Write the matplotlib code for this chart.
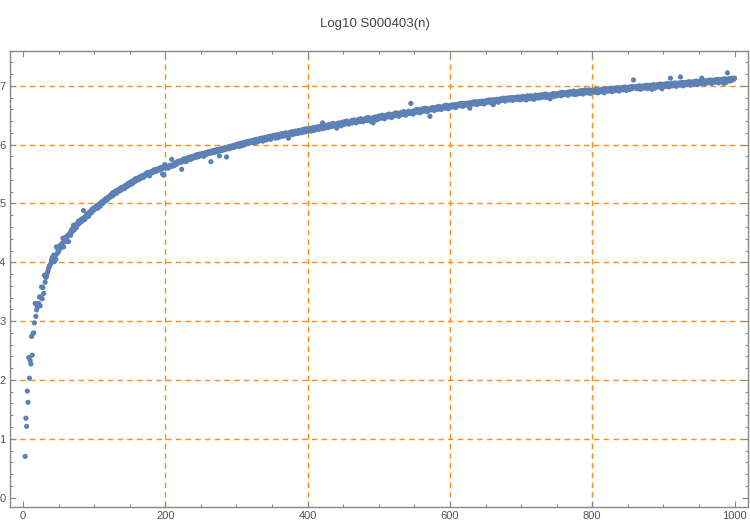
import numpy as np
import matplotlib
matplotlib.use("Agg")
import matplotlib.pyplot as plt
from matplotlib.ticker import MultipleLocator

#-----------------------------data--------------------------------------------------

title = "Log10 S000403(n)"

n_start = 3
log10_s = [
    0.70, 1.35, 1.21, 1.81, 1.62, 2.38, 2.03, 2.33,
    2.27, 2.74, 2.42, 2.79, 2.80, 2.97, 3.30, 3.08, 3.19, 3.24,
    3.25, 3.30, 3.41, 3.26, 3.41, 3.58, 3.38, 3.57, 3.47, 3.78,
    3.66, 3.74, 3.76, 3.81, 3.85, 3.90, 3.93, 3.95, 3.98, 4.04,
    4.08, 4.07, 4.12, 4.01, 4.10, 4.05, 4.26, 4.15, 4.22, 4.18,
    4.26, 4.29, 4.24, 4.29, 4.32, 4.41, 4.26, 4.38, 4.35, 4.43,
    4.40, 4.43, 4.46, 4.35, 4.47, 4.50, 4.46, 4.55, 4.52, 4.58,
    4.63, 4.55, 4.60, 4.62, 4.59, 4.66, 4.64, 4.70, 4.66, 4.68,
    4.72, 4.69, 4.74, 4.71, 4.88, 4.76, 4.73, 4.79, 4.77, 4.82,
    4.80, 4.78, 4.85, 4.83, 4.87, 4.84, 4.90, 4.88, 4.92, 4.89,
    4.93, 4.91, 4.96, 4.94, 4.92, 4.98, 4.97, 4.95, 5.01, 4.99,
    5.03, 5.00, 5.02, 5.06, 5.04, 5.05, 5.09, 5.06, 5.08, 5.11,
    5.10, 5.13, 5.11, 5.14, 5.17, 5.13, 5.19, 5.16, 5.18, 5.21,
    5.17, 5.22, 5.20, 5.23, 5.21, 5.25, 5.22, 5.27, 5.24, 5.26,
    5.28, 5.25, 5.30, 5.27, 5.31, 5.29, 5.33, 5.30, 5.35, 5.32,
    5.34, 5.37, 5.33, 5.38, 5.36, 5.40, 5.37, 5.42, 5.39, 5.41,
    5.43, 5.40, 5.44, 5.42, 5.46, 5.43, 5.47, 5.45, 5.44, 5.48,
    5.47, 5.50, 5.48, 5.52, 5.49, 5.53, 5.50, 5.47, 5.52, 5.54,
    5.52, 5.55, 5.53, 5.57, 5.54, 5.56, 5.58, 5.55, 5.57, 5.59,
    5.57, 5.60, 5.58, 5.61, 5.59, 5.50, 5.62, 5.48, 5.66, 5.60,
    5.62, 5.61, 5.63, 5.60, 5.64, 5.62, 5.65, 5.63, 5.75, 5.64,
    5.66, 5.64, 5.67, 5.69, 5.66, 5.68, 5.71, 5.69, 5.72, 5.70,
    5.72, 5.70, 5.58, 5.73, 5.75, 5.72, 5.76, 5.74, 5.71, 5.75,
    5.77, 5.74, 5.78, 5.76, 5.79, 5.75, 5.78, 5.80, 5.77, 5.79,
    5.81, 5.78, 5.80, 5.83, 5.79, 5.82, 5.80, 5.84, 5.81, 5.83,
    5.82, 5.85, 5.83, 5.80, 5.84, 5.86, 5.83, 5.87, 5.84, 5.86,
    5.88, 5.85, 5.87, 5.71, 5.89, 5.86, 5.88, 5.90, 5.87, 5.89,
    5.91, 5.88, 5.90, 5.92, 5.89, 5.81, 5.91, 5.93, 5.90, 5.92,
    5.94, 5.91, 5.93, 5.95, 5.92, 5.79, 5.94, 5.96, 5.93, 5.95,
    5.97, 5.94, 5.96, 5.98, 5.95, 5.97, 5.99, 5.96, 5.98, 6.00,
    5.98, 6.01, 5.99, 5.97, 6.02, 6.00, 5.98, 6.03, 6.01, 5.99,
    6.02, 6.04, 6.01, 6.03, 6.05, 6.02, 6.04, 6.06, 6.03, 6.05,
    6.04, 6.07, 6.05, 6.03, 6.08, 6.06, 6.04, 6.09, 6.07, 6.05,
    6.08, 6.10, 6.07, 6.09, 6.11, 6.08, 6.06, 6.10, 6.12, 6.09,
    6.11, 6.08, 6.13, 6.10, 6.12, 6.14, 6.11, 6.09, 6.13, 6.15,
    6.12, 6.14, 6.16, 6.13, 6.11, 6.15, 6.17, 6.14, 6.12, 6.16,
    6.15, 6.18, 6.16, 6.14, 6.19, 6.17, 6.15, 6.18, 6.20, 6.17,
    6.19, 6.16, 6.11, 6.20, 6.18, 6.21, 6.19, 6.17, 6.22, 6.20,
    6.18, 6.21, 6.23, 6.20, 6.22, 6.19, 6.24, 6.21, 6.23, 6.20,
    6.22, 6.25, 6.23, 6.21, 6.26, 6.24, 6.22, 6.27, 6.25, 6.23,
    6.26, 6.24, 6.27, 6.25, 6.23, 6.28, 6.26, 6.24, 6.29, 6.27,
    6.25, 6.28, 6.30, 6.27, 6.29, 6.26, 6.31, 6.28, 6.30, 6.27,
    6.37, 6.29, 6.31, 6.28, 6.32, 6.30, 6.33, 6.29, 6.31, 6.34,
    6.30, 6.32, 6.35, 6.31, 6.33, 6.36, 6.32, 6.34, 6.31, 6.35,
    6.28, 6.34, 6.36, 6.33, 6.37, 6.35, 6.32, 6.36, 6.38, 6.34,
    6.36, 6.39, 6.35, 6.37, 6.40, 6.36, 6.38, 6.35, 6.39, 6.37,
    6.38, 6.41, 6.37, 6.39, 6.42, 6.38, 6.40, 6.37, 6.41, 6.39,
    6.40, 6.43, 6.39, 6.41, 6.44, 6.40, 6.42, 6.39, 6.43, 6.41,
    6.42, 6.45, 6.41, 6.43, 6.46, 6.42, 6.44, 6.40, 6.45, 6.43,
    6.44, 6.37, 6.46, 6.43, 6.47, 6.45, 6.42, 6.46, 6.48, 6.44,
    6.46, 6.49, 6.45, 6.47, 6.50, 6.46, 6.48, 6.44, 6.49, 6.47,
    6.48, 6.51, 6.47, 6.49, 6.52, 6.48, 6.50, 6.46, 6.51, 6.49,
    6.50, 6.53, 6.49, 6.51, 6.54, 6.50, 6.52, 6.48, 6.53, 6.51,
    6.52, 6.55, 6.51, 6.53, 6.56, 6.52, 6.54, 6.50, 6.55, 6.53,
    6.54, 6.57, 6.53, 6.55, 6.70, 6.54, 6.56, 6.52, 6.57, 6.55,
    6.56, 6.59, 6.55, 6.57, 6.60, 6.56, 6.58, 6.54, 6.59, 6.57,
    6.58, 6.61, 6.57, 6.59, 6.62, 6.58, 6.60, 6.56, 6.61, 6.59,
    6.60, 6.48, 6.59, 6.61, 6.63, 6.60, 6.62, 6.58, 6.63, 6.61,
    6.62, 6.64, 6.60, 6.63, 6.65, 6.61, 6.63, 6.60, 6.64, 6.62,
    6.63, 6.66, 6.62, 6.64, 6.67, 6.63, 6.65, 6.61, 6.66, 6.64,
    6.65, 6.67, 6.64, 6.66, 6.68, 6.65, 6.67, 6.63, 6.68, 6.66,
    6.67, 6.69, 6.66, 6.68, 6.70, 6.67, 6.69, 6.65, 6.70, 6.68,
    6.68, 6.70, 6.67, 6.69, 6.71, 6.68, 6.70, 6.62, 6.71, 6.69,
    6.70, 6.72, 6.69, 6.71, 6.73, 6.70, 6.72, 6.68, 6.73, 6.71,
    6.71, 6.73, 6.70, 6.72, 6.74, 6.71, 6.73, 6.69, 6.74, 6.72,
    6.73, 6.75, 6.72, 6.74, 6.76, 6.73, 6.75, 6.71, 6.76, 6.74,
    6.68, 6.76, 6.73, 6.75, 6.77, 6.74, 6.76, 6.72, 6.77, 6.75,
    6.76, 6.78, 6.75, 6.77, 6.79, 6.76, 6.78, 6.74, 6.79, 6.77,
    6.77, 6.79, 6.76, 6.78, 6.80, 6.77, 6.79, 6.75, 6.80, 6.78,
    6.78, 6.80, 6.77, 6.79, 6.81, 6.78, 6.80, 6.76, 6.81, 6.79,
    6.77, 6.80, 6.82, 6.78, 6.79, 6.81, 6.76, 6.80, 6.83, 6.79,
    6.81, 6.78, 6.80, 6.83, 6.79, 6.82, 6.80, 6.77, 6.81, 6.84,
    6.80, 6.83, 6.81, 6.79, 6.84, 6.82, 6.80, 6.83, 6.85, 6.81,
    6.83, 6.81, 6.84, 6.86, 6.82, 6.80, 6.85, 6.83, 6.81, 6.84,
    6.78, 6.84, 6.86, 6.83, 6.85, 6.87, 6.82, 6.84, 6.86, 6.83,
    6.85, 6.87, 6.84, 6.86, 6.88, 6.83, 6.86, 6.89, 6.85, 6.87,
    6.86, 6.88, 6.85, 6.87, 6.89, 6.84, 6.88, 6.86, 6.90, 6.87,
    6.88, 6.86, 6.89, 6.91, 6.87, 6.85, 6.90, 6.88, 6.86, 6.89,
    6.89, 6.91, 6.87, 6.90, 6.92, 6.88, 6.86, 6.91, 6.89, 6.93,
    6.90, 6.88, 6.92, 6.89, 6.91, 6.93, 6.87, 6.90, 6.92, 6.91,
    6.91, 6.93, 6.89, 6.92, 6.90, 6.94, 6.91, 6.88, 6.93, 6.92,
    6.92, 6.90, 6.94, 6.91, 6.93, 6.95, 6.88, 6.92, 6.94, 6.91,
    6.93, 6.95, 6.91, 6.94, 6.92, 6.96, 6.93, 6.90, 6.95, 6.94,
    6.94, 6.96, 6.92, 6.95, 6.93, 6.97, 6.94, 6.91, 6.96, 6.95,
    6.95, 6.97, 6.93, 6.96, 6.94, 6.98, 6.95, 6.92, 6.97, 6.96,
    6.96, 6.98, 6.94, 6.97, 6.95, 6.99, 6.96, 7.10, 6.98, 6.97,
    6.97, 6.99, 6.95, 6.98, 6.96, 7.00, 6.97, 6.94, 6.99, 6.98,
    6.98, 7.00, 6.96, 6.99, 6.97, 7.01, 6.98, 6.95, 7.00, 6.99,
    6.99, 7.01, 6.97, 6.94, 6.98, 7.02, 6.99, 6.96, 7.01, 7.00,
    7.00, 7.02, 6.98, 7.01, 6.99, 7.03, 7.00, 6.95, 7.02, 7.01,
    7.01, 7.03, 6.99, 7.02, 7.00, 7.04, 7.01, 6.98, 7.03, 7.13,
    7.02, 7.04, 7.00, 7.03, 7.01, 7.05, 7.02, 6.99, 7.04, 7.03,
    7.03, 7.05, 7.01, 7.15, 7.02, 7.06, 7.03, 7.00, 7.05, 7.04,
    7.04, 7.06, 7.02, 7.05, 7.03, 7.07, 7.04, 7.01, 7.06, 7.05,
    7.05, 7.07, 7.03, 7.06, 7.04, 7.08, 7.05, 7.02, 7.07, 7.06,
    7.06, 7.08, 7.04, 7.13, 7.05, 7.09, 7.06, 7.03, 7.08, 7.07,
    7.07, 7.09, 7.05, 7.08, 7.06, 7.10, 7.07, 7.04, 7.09, 7.08,
    7.08, 7.10, 7.06, 7.09, 7.07, 7.11, 7.08, 7.05, 7.10, 7.09,
    7.09, 7.11, 7.07, 7.10, 7.04, 7.12, 7.09, 7.06, 7.11, 7.22,
    7.10, 7.12, 7.08, 7.11, 7.09, 7.13, 7.10, 7.12, 7.11, 7.13,
]

x_ticks = [0, 200, 400, 600, 800, 1000]
y_ticks = [0, 1, 2, 3, 4, 5, 6, 7]
x_grid = [200, 400, 600, 800]
y_grid = [1, 2, 3, 4, 5, 6, 7]

#-----------------------------plot--------------------------------------------------

n = np.arange(n_start, n_start + len(log10_s))

fig = plt.figure(figsize=(7.5, 5.25), dpi=100)
ax = fig.add_axes([0.0127, 0.0343, 0.9847, 0.8695])

grid_color = "#ff8c1a"
for g in x_grid:
    ax.axvline(g, color=grid_color, lw=1.0, ls=(0, (4, 3)), zorder=1)
for g in y_grid:
    ax.axhline(g, color=grid_color, lw=1.0, ls=(0, (4, 3)), zorder=1)

ax.scatter(n, log10_s, s=14, color="#5e81b5", edgecolors="none", zorder=3)

ax.set_xlim(-19, 1019)
ax.set_ylim(-0.16, 7.6)
ax.set_xticks(x_ticks)
ax.set_yticks(y_ticks)
ax.xaxis.set_minor_locator(MultipleLocator(50))
ax.yaxis.set_minor_locator(MultipleLocator(0.2))

ax.tick_params(which="both", direction="in", top=True, right=True,
               color="#888888", labelcolor="#555555", labelsize=8, pad=3)
ax.tick_params(which="major", length=4, width=0.8)
ax.tick_params(which="minor", length=2.5, width=0.8)
for sp in ax.spines.values():
    sp.set_color("#888888")
    sp.set_linewidth(1.0)

for lab in ax.get_xticklabels() + ax.get_yticklabels():
    lab.set_family("Liberation Sans")

fig.text(0.5, 0.954, title, ha="center", va="center", fontsize=9.5,
         color="#444444", family="Liberation Sans")

fig.savefig("out.png", dpi=100)
